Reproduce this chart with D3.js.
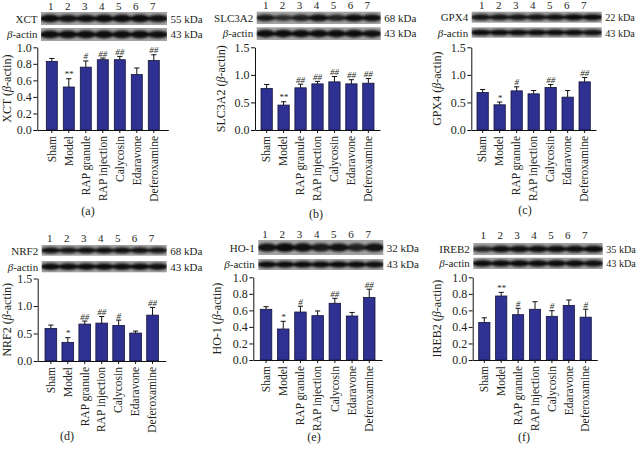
<!DOCTYPE html>
<html><head><meta charset="utf-8">
<script src="https://cdn.jsdelivr.net/npm/d3@7"></script>
<style>
body{margin:0;background:#fff}
svg{display:block}
text{font-family:"Liberation Serif","Times New Roman",serif;fill:#231f20}
</style>
</head><body><svg id="c" width="637" height="452"></svg>
<script>
// ---------- data ----------
const categories = ["Sham","Model","RAP granule","RAP injection","Calycosin","Edaravone","Deferoxamine"];
const laneLabels = ["1","2","3","4","5","6","7"];

const xctMean  = [0.83,0.52,0.76,0.85,0.85,0.67,0.84];
const xctErr   = [0.035,0.10,0.075,0.02,0.04,0.08,0.07];
const xctSig   = ["","**","#","##","##","","##"];

const slcMean  = [0.755,0.452,0.765,0.837,0.873,0.837,0.849];
const slcErr   = [0.07,0.06,0.066,0.045,0.097,0.075,0.085];
const slcSig   = ["","**","##","##","##","##","##"];

const gpxMean  = [0.68,0.457,0.71,0.656,0.771,0.596,0.873];
const gpxErr   = [0.055,0.05,0.073,0.06,0.055,0.12,0.08];
const gpxSig   = ["","*","#","","##","","##"];

const nrfMean  = [0.593,0.339,0.671,0.689,0.647,0.508,0.834];
const nrfErr   = [0.06,0.085,0.055,0.12,0.097,0.036,0.14];
const nrfSig   = ["","*","##","##","#","","##"];

const hoMean   = [0.613,0.375,0.58,0.536,0.686,0.532,0.756];
const hoErr    = [0.032,0.093,0.07,0.057,0.06,0.043,0.10];
const hoSig    = ["","*","#","","##","","##"];

const irebMean = [0.455,0.774,0.548,0.613,0.528,0.66,0.518];
const irebErr  = [0.055,0.044,0.077,0.092,0.068,0.066,0.096];
const irebSig  = ["","**","#","","#","","#"];

// band intensities read from the blots (target protein, beta-actin)
const xctBand  = [1,0.9,0.95,1,1,1,0.9];
const slcBand  = [0.85,0.55,0.75,0.95,0.7,1,0.95];
const gpxBand  = [0.85,0.85,0.85,0.9,0.9,1,1];
const nrfBand  = [0.95,0.85,0.95,0.95,0.95,0.9,0.85];
const hoBand   = [0.9,1,0.95,0.8,0.9,0.7,0.9];
const irebBand = [0.65,0.95,0.95,0.95,0.95,0.95,1];
const actinBand = [1,1,1,1,1,1,0.95];

const proteins = ["XCT","SLC3A2","GPX4","NRF2","HO-1","IREB2"];
const kdaLabels = ["55 kDa","68 kDa","22 kDa","68 kDa","32 kDa","35 kDa"];
const actinKda = "43 kDa";
const captions = ["(a)","(b)","(c)","(d)","(e)","(f)"];

const yMaxes = [1.0,1.5,1.5,1.5,1.0,1.0];
const yTicksA = [0,0.2,0.4,0.6,0.8,1.0];
const yTicksB = [0,0.5,1.0,1.5];
const yTickSets = [yTicksA,yTicksB,yTicksB,yTicksB,yTicksA,yTicksA];

const meansList = [xctMean,slcMean,gpxMean,nrfMean,hoMean,irebMean];
const errList = [xctErr,slcErr,gpxErr,nrfErr,hoErr,irebErr];
const sigList = [xctSig,slcSig,gpxSig,nrfSig,hoSig,irebSig];
const bandList = [xctBand,slcBand,gpxBand,nrfBand,hoBand,irebBand];

// ---------- layout ----------
const layout = [
  {ax:37.3, gap:9,  step:17,   bw:11,   yTop:47.3, yBot:130, strip:[41,167],    s1:[12,25],   s2:[28,41],   lab1:22.5,lab2:38,  laneY:10,  titleX:11, cap:[88,215],  kfs:11},
  {ax:255,  gap:6,  step:16.95,bw:11.3, yTop:47.3, yBot:130, strip:[256.7,380.7],s1:[11.7,24],s2:[27.3,40], lab1:21.5,lab2:37,  laneY:8.5, titleX:225,cap:[316,218], kfs:11},
  {ax:471.3,gap:5.7,step:17,   bw:11.3, yTop:47.3, yBot:130, strip:[471.7,601.7],s1:[11.7,22.7],s2:[27.3,37.7],lab1:20.5,lab2:36.5,laneY:8.5, titleX:441,cap:[525,213.5], kfs:10.2},
  {ax:37.7, gap:7.3,step:16.95,bw:11.7, yTop:278.5,yBot:361, strip:[41.7,166.7],s1:[245,255.7],s2:[261,272.3],lab1:254.5,lab2:270.5, laneY:242, titleX:11, cap:[67,440], kfs:11},
  {ax:253.3,gap:7,  step:17.2, bw:11.5, yTop:277.3,yBot:360, strip:[258.3,383.3],s1:[240,255],s2:[259,270],  lab1:251.5,lab2:268,laneY:238,titleX:221,cap:[314,441], kfs:11},
  {ax:472.7,gap:6,  step:16.9, bw:11.2, yTop:277.3,yBot:360, strip:[473.3,602.7],s1:[243,255],s2:[257.7,269],lab1:253,lab2:267,laneY:239,titleX:441,cap:[524,441], kfs:10.2}
];

const BAR = "#2e3192";
const svg = d3.select("#c");
const defs = svg.append("defs");
defs.append("filter").attr("id","blur").attr("x","-20%").attr("y","-60%").attr("width","140%").attr("height","220%")
  .append("feGaussianBlur").attr("stdDeviation",1.1);

function blot(g, L, y0y1, intens, idx, key){
  const [x0,x1] = L.strip, [y0,y1] = y0y1, h = y1-y0;
  const clipId = "clip"+idx+key;
  defs.append("clipPath").attr("id",clipId).append("rect").attr("x",x0).attr("y",y0).attr("width",x1-x0).attr("height",h);
  g.append("rect").attr("x",x0).attr("y",y0).attr("width",x1-x0).attr("height",h).attr("fill","#a2a2a2");
  const lane = d3.scalePoint().domain(laneLabels).range([x0,x1]).padding(0.5);
  const bg = g.append("g").attr("clip-path",`url(#${clipId})`).append("g").attr("filter","url(#blur)");
  bg.selectAll("ellipse").data(intens).join("ellipse")
    .attr("cx",(d,i)=>lane(laneLabels[i]))
    .attr("cy",y0+h/2)
    .attr("rx",lane.step()*0.57)
    .attr("ry",d=>h*0.3*(0.6+0.4*d))
    .attr("fill","#101010")
    .attr("opacity",d=>0.55+0.45*d);
}

function panel(i){
  const L = layout[i];
  const g = svg.append("g");
  const n = categories.length;
  const pi = 1 - L.bw/L.step, po = L.gap/L.step;
  const xRight = L.ax + L.step*(n - pi + 2*po);
  const x = d3.scaleBand().domain(categories).range([L.ax, xRight]).paddingInner(pi).paddingOuter(po);
  const y = d3.scaleLinear().domain([0,yMaxes[i]]).range([L.yBot,L.yTop]);
  const means = meansList[i], errs = errList[i], sigs = sigList[i];

  // blots
  blot(g, L, L.s1, bandList[i], i, "a");
  blot(g, L, L.s2, actinBand, i, "b");
  const lx = L.strip[0]-3.5, rx = L.strip[1]+3.5;
  g.append("text").attr("x",lx).attr("y",L.lab1).attr("text-anchor","end").attr("font-size",11).text(proteins[i]);
  const bt = g.append("text").attr("x",lx).attr("y",L.lab2).attr("text-anchor","end").attr("font-size",11);
  bt.append("tspan").attr("font-style","italic").text("β");
  bt.append("tspan").text("-actin");
  g.append("text").attr("x",rx).attr("y",L.lab1).attr("font-size",L.kfs).text(kdaLabels[i]);
  g.append("text").attr("x",rx).attr("y",L.lab2).attr("font-size",L.kfs).text(actinKda);
  g.selectAll("text.lane").data(laneLabels).join("text").attr("class","lane")
    .attr("x",(d,j)=>x(categories[j])+x.bandwidth()/2 - 1)
    .attr("y",L.laneY).attr("text-anchor","middle").attr("font-size",11).text(d=>d);

  // bars
  g.selectAll("rect.bar").data(means).join("rect").attr("class","bar")
    .attr("x",(d,j)=>x(categories[j])).attr("width",x.bandwidth())
    .attr("y",d=>y(d)).attr("height",d=>y(0)-y(d))
    .attr("fill",BAR).attr("stroke","#15153a").attr("stroke-width",0.8);
  // error bars
  const cw = 2.6;
  means.forEach((m,j)=>{
    const cx = x(categories[j])+x.bandwidth()/2;
    const top = y(m+errs[j]);
    g.append("line").attr("x1",cx).attr("x2",cx).attr("y1",y(m)).attr("y2",top).attr("stroke","#111").attr("stroke-width",1);
    g.append("line").attr("x1",cx-cw).attr("x2",cx+cw).attr("y1",top).attr("y2",top).attr("stroke","#111").attr("stroke-width",1);
    if(sigs[j]) g.append("text").attr("x",cx).attr("y",top-1.5).attr("text-anchor","middle")
      .attr("font-size",9).attr("font-style","italic").attr("fill","#444").text(sigs[j]);
  });

  // axes
  const ya = g.append("g").attr("transform",`translate(${L.ax},0)`)
    .call(d3.axisLeft(y).tickValues(yTickSets[i]).tickFormat(d3.format(".1f")).tickSize(4).tickSizeOuter(0));
  ya.selectAll("text").attr("font-size",12).attr("font-family","Liberation Serif").attr("fill","#231f20").attr("x",-5.5);
  const xa = g.append("g").attr("transform",`translate(0,${L.yBot})`)
    .call(d3.axisBottom(x).tickSize(3).tickSizeOuter(0));
  xa.selectAll("text").attr("font-size",11.5).attr("font-family","Liberation Serif").attr("fill","#231f20")
    .attr("transform","rotate(-90)").attr("text-anchor","end").attr("x",-6).attr("y",0).attr("dy","0.33em");
  g.selectAll(".domain,.tick line").attr("stroke","#111").attr("stroke-width",1);

  // y title
  const tt = g.append("text").attr("transform",`translate(${L.titleX},${(L.yTop+L.yBot)/2}) rotate(-90)`)
    .attr("text-anchor","middle").attr("font-size",12);
  tt.append("tspan").text(proteins[i]+" (");
  tt.append("tspan").attr("font-style","italic").text("β");
  tt.append("tspan").text("-actin)");

  g.append("text").attr("x",L.cap[0]).attr("y",L.cap[1]).attr("text-anchor","middle").attr("font-size",12).text(captions[i]);
}
for(let i=0;i<6;i++) panel(i);
</script>
</body></html>
